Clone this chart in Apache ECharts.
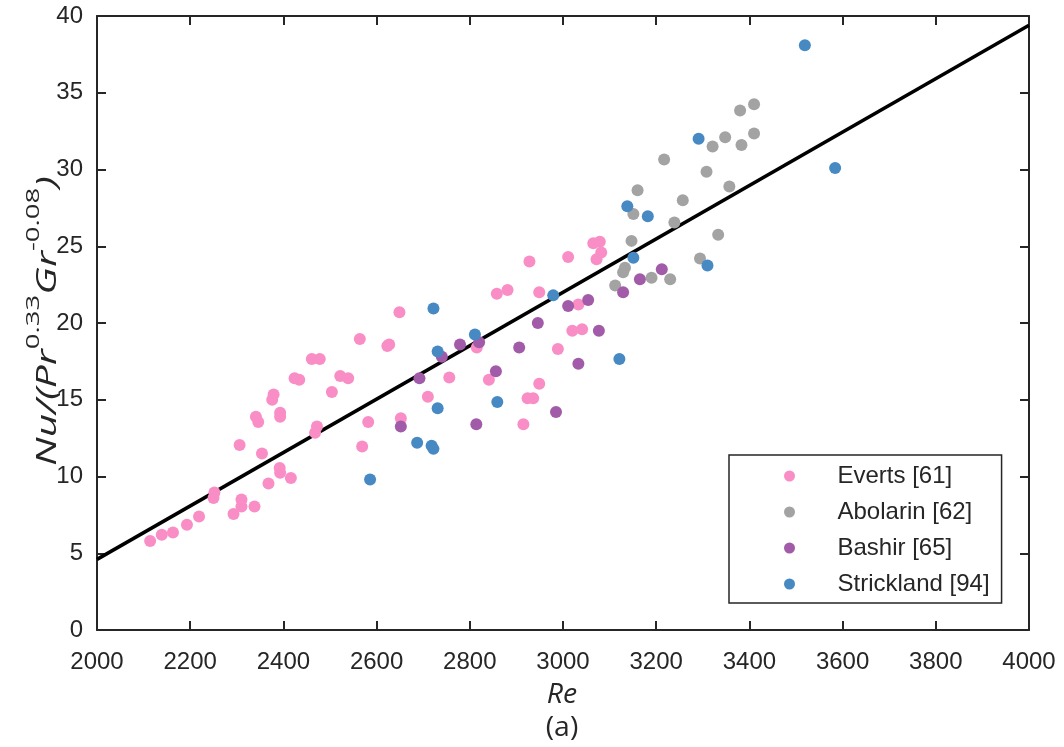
<!DOCTYPE html>
<html>
<head>
<meta charset="utf-8">
<script src="https://cdn.jsdelivr.net/npm/echarts@6/dist/echarts.min.js"></script>
<style>html,body{margin:0;padding:0;background:#fff;}#c{width:1064px;height:747px;}</style>
</head>
<body>
<div id="c"></div>
<script>
// ---- data (Re, Nu/(Pr^0.33 Gr^-0.08)) ----
var seriesNames = ['Everts [61]', 'Abolarin [62]', 'Bashir [65]', 'Strickland [94]'];
var everts = [
  [2114,5.8],[2139,6.2],[2163,6.35],[2193,6.85],[2219,7.4],[2250,8.6],[2252,8.95],[2293,7.55],
  [2310,8.5],[2310,8.05],[2338,8.05],[2306,12.05],[2354,11.5],[2368,9.55],[2392,10.55],[2393,10.25],
  [2416,9.9],[2341,13.9],[2346,13.55],[2376,15.0],[2379,15.35],[2393,14.15],[2393,13.9],[2424,16.4],
  [2434,16.3],[2461,17.65],[2478,17.65],[2504,15.5],[2522,16.55],[2539,16.4],[2468,12.85],[2472,13.25],
  [2564,18.95],[2569,11.95],[2582,13.55],[2623,18.5],[2627,18.6],[2649,20.7],[2652,13.8],[2710,15.2],
  [2756,16.45],[2815,18.4],[2841,16.3],[2858,21.9],[2881,22.15],[2928,24.0],[2949,22.0],[3011,24.3],
  [3033,21.2],[3020,19.5],[3041,19.6],[2989,18.3],[2949,16.05],[2924,15.1],[2936,15.1],[2915,13.4],
  [3065,25.2],[3079,25.3],[3082,24.6],[3072,24.15]
];
var abolarin = [
  [3112,22.45],[3129,23.3],[3133,23.6],[3147,25.35],[3151,27.1],[3160,28.65],[3190,22.95],[3217,30.65],
  [3230,22.85],[3239,26.55],[3257,28.0],[3294,24.2],[3308,29.85],[3321,31.5],[3333,25.75],[3348,32.1],
  [3357,28.9],[3380,33.85],[3383,31.6],[3410,32.35],[3410,34.25]
];
var bashir = [
  [2652,13.25],[2692,16.4],[2740,17.8],[2779,18.6],[2820,18.75],[2814,13.4],[2856,16.85],[2906,18.4],
  [2946,20.0],[2985,14.2],[3011,21.1],[3033,17.35],[3054,21.5],[3077,19.5],[3129,22.0],[3165,22.85],
  [3212,23.5]
];
var strickland = [
  [2586,9.8],[2687,12.2],[2718,12.0],[2722,11.8],[2722,20.95],[2731,18.15],[2731,14.45],[2811,19.25],
  [2859,14.85],[2979,21.8],[3121,17.65],[3138,27.6],[3151,24.25],[3182,26.95],[3291,32.0],[3310,23.75],
  [3519,38.1],[3584,30.1]
];
var fitLine = [[2000,4.6],[4000,39.4]];
var xTicks = {min:2000, max:4000, interval:200};
var yTicks = {min:0, max:40, interval:5};
var xTitle = 'Re';
var yTitle = '{i|Nu/(Pr}{s|0.33}{i|Gr}{s|-0.08}{i|)}';
var panelLabel = '(a)';
var colors = ['#f98ec6', '#a3a3a3', '#a25ba8', '#4689c3'];

var txt = '#262626';
var axisLine = {show:true, onZero:false, lineStyle:{color:txt, width:2}};
var tick = {show:true, inside:true, length:9, lineStyle:{color:txt, width:2}};
var lbl = {color:txt, fontSize:24, fontFamily:'Liberation Sans, Arial, sans-serif'};
var titleFont = 'Open Sans, Noto Sans, sans-serif';

var chart = echarts.init(document.getElementById('c'), null, {renderer:'canvas'});
var scatterSeries = [everts, abolarin, bashir, strickland].map(function(d, i){
  return {
    name: seriesNames[i], type:'scatter', data:d, symbol:'circle', symbolSize:12,
    itemStyle:{color:colors[i], opacity:1}, z:3, animation:false
  };
});
chart.setOption({
  animation:false,
  backgroundColor:'#fff',
  grid:{left:97, right:35, top:16, bottom:117, containLabel:false},
  xAxis:[{
    type:'value', min:xTicks.min, max:xTicks.max, interval:xTicks.interval, position:'bottom',
    axisLine:axisLine, axisTick:tick, splitLine:{show:false},
    axisLabel:Object.assign({margin:20, formatter:function(v){return String(v);}}, lbl)
  },{
    type:'value', min:xTicks.min, max:xTicks.max, interval:xTicks.interval, position:'top',
    axisLine:axisLine, axisTick:tick, splitLine:{show:false}, axisLabel:{show:false}
  }],
  yAxis:[{
    type:'value', min:yTicks.min, max:yTicks.max, interval:yTicks.interval, position:'left',
    axisLine:axisLine, axisTick:tick, splitLine:{show:false},
    axisLabel:Object.assign({margin:14}, lbl)
  },{
    type:'value', min:yTicks.min, max:yTicks.max, interval:yTicks.interval, position:'right',
    axisLine:axisLine, axisTick:tick, splitLine:{show:false}, axisLabel:{show:false}
  }],
  legend:{
    data:seriesNames, orient:'vertical', left:729, top:455,
    padding:[9,12,7,55], itemGap:12, itemWidth:86, itemHeight:11,
    icon:'circle', borderColor:txt, borderWidth:1.5, borderRadius:0,
    backgroundColor:'#fff',
    textStyle:{color:txt, fontSize:24, fontFamily:'Liberation Sans, Arial, sans-serif'}
  },
  graphic:[{
    type:'text', x:562, y:695, scaleX:1.05, scaleY:1,
    style:{text:xTitle, fill:txt, fontSize:27, fontStyle:'italic', fontFamily:titleFont, align:'center', verticalAlign:'middle'}
  },{
    type:'text', x:562, y:728, scaleX:1.05, scaleY:1,
    style:{text:panelLabel, fill:txt, fontSize:27, fontFamily:titleFont, align:'center', verticalAlign:'middle'}
  },{
    type:'text', x:43, y:321, rotation:Math.PI/2, scaleX:1.45, scaleY:1,
    style:{
      text:yTitle, fill:txt, align:'center', verticalAlign:'middle',
      rich:{
        i:{fontSize:28, fontStyle:'italic', fontFamily:titleFont, fill:txt, lineHeight:38, verticalAlign:'bottom'},
        s:{fontSize:19, fontFamily:titleFont, fill:txt, lineHeight:19, verticalAlign:'top'}
      }
    }
  }],
  series:[{
    type:'line', data:fitLine, symbol:'none', lineStyle:{color:'#000', width:3.5}, z:2,
    silent:true, animation:false
  }].concat(scatterSeries)
});
</script>
</body>
</html>
